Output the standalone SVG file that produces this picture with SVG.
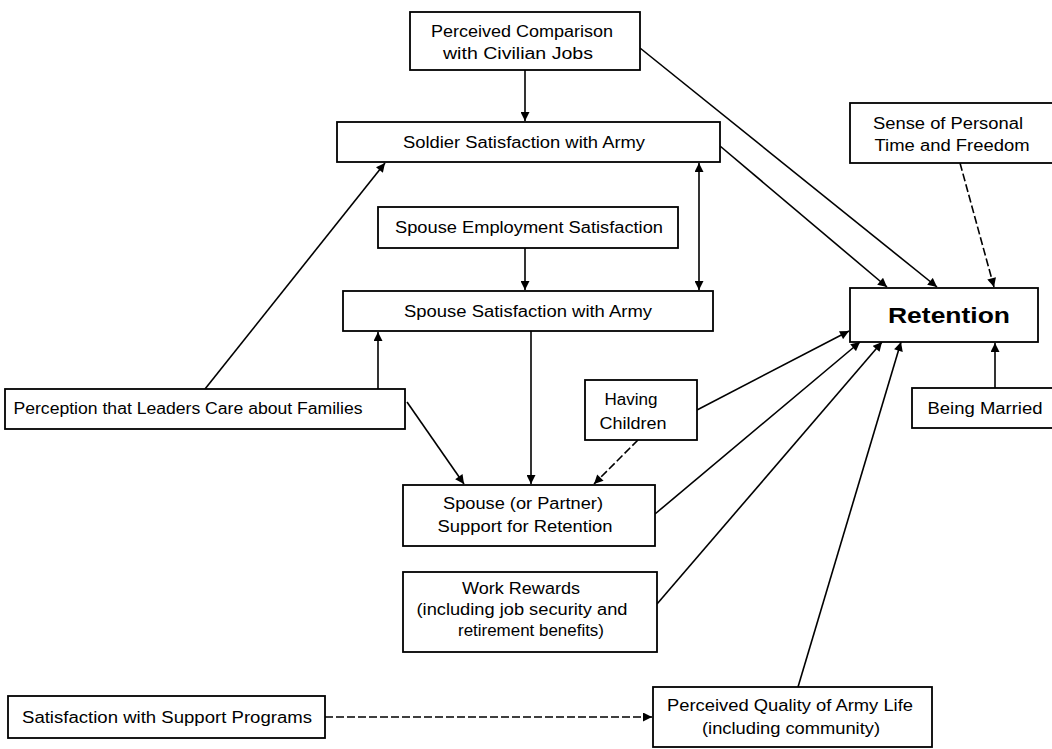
<svg xmlns="http://www.w3.org/2000/svg" width="1052" height="749" viewBox="0 0 1052 749">
<defs>
<marker id="ah" viewBox="0 0 10 10" refX="10" refY="5" markerWidth="10" markerHeight="9" markerUnits="userSpaceOnUse" orient="auto-start-reverse">
<path d="M0,0 L10,5 L0,10 z" fill="#000"/>
</marker>
<style>
.box{fill:#fff;stroke:#000;stroke-width:1.8}
.t{font-family:"Liberation Sans",Arial,sans-serif;font-size:16px;fill:#000;text-anchor:middle}
.big{font-family:"Liberation Sans",Arial,sans-serif;font-size:22px;font-weight:bold;fill:#000;text-anchor:middle}
.c{fill:none;stroke:#000;stroke-width:1.6;marker-end:url(#ah)}
.d{stroke-dasharray:8 3}
</style>
</defs>
<rect width="1052" height="749" fill="#fff"/>
<g id="connectors">
<line class="c" x1="525" y1="70" x2="525" y2="121"/>
<line class="c" x1="640" y1="48" x2="937" y2="287"/>
<line class="c" x1="720" y1="146" x2="887" y2="287"/>
<line class="c" x1="699" y1="290" x2="699" y2="163" style="marker-start:url(#ah)"/>
<line class="c" x1="525" y1="248" x2="525" y2="290"/>
<line class="c" x1="205" y1="389" x2="385" y2="163"/>
<line class="c" x1="378" y1="389" x2="378" y2="332"/>
<line class="c" x1="407" y1="402" x2="464" y2="484"/>
<line class="c" x1="531" y1="331" x2="531" y2="484"/>
<line class="c d" x1="638" y1="440" x2="594" y2="484"/>
<line class="c" x1="697" y1="410" x2="849" y2="331"/>
<line class="c" x1="655" y1="514" x2="860" y2="342"/>
<line class="c" x1="657" y1="604" x2="882" y2="342"/>
<line class="c" x1="798" y1="687" x2="901" y2="342"/>
<line class="c d" x1="960" y1="163" x2="994" y2="287"/>
<line class="c" x1="995" y1="388" x2="995" y2="343"/>
<line class="c d" x1="325" y1="717" x2="652" y2="717"/>
</g>
<g id="n-compare"><rect class="box" x="410" y="12" width="230" height="58"/><text class="t" x="522" y="37" textLength="182" lengthAdjust="spacingAndGlyphs">Perceived Comparison</text><text class="t" x="518" y="59" textLength="150" lengthAdjust="spacingAndGlyphs">with Civilian Jobs</text></g>
<g id="n-soldier"><rect class="box" x="337" y="122" width="383" height="40"/><text class="t" x="524" y="148" textLength="242" lengthAdjust="spacingAndGlyphs">Soldier Satisfaction with Army</text></g>
<g id="n-sense"><rect class="box" x="850" y="103" width="210" height="60"/><text class="t" x="948" y="129" textLength="150" lengthAdjust="spacingAndGlyphs">Sense of Personal</text><text class="t" x="952" y="151" textLength="155" lengthAdjust="spacingAndGlyphs">Time and Freedom</text></g>
<g id="n-spemp"><rect class="box" x="378" y="207" width="300" height="41"/><text class="t" x="529" y="233" textLength="268" lengthAdjust="spacingAndGlyphs">Spouse Employment Satisfaction</text></g>
<g id="n-spsat"><rect class="box" x="343" y="291" width="370" height="40"/><text class="t" x="528" y="317" textLength="248" lengthAdjust="spacingAndGlyphs">Spouse Satisfaction with Army</text></g>
<g id="n-retention"><rect class="box" x="850" y="288" width="188" height="54"/><text class="big" x="949" y="323" textLength="122" lengthAdjust="spacingAndGlyphs">Retention</text></g>
<g id="n-leaders"><rect class="box" x="5" y="389" width="400" height="40"/><text class="t" x="188" y="414" textLength="349" lengthAdjust="spacingAndGlyphs">Perception that Leaders Care about Families</text></g>
<g id="n-children"><rect class="box" x="585" y="380" width="112" height="60"/><text class="t" x="631" y="405" textLength="53" lengthAdjust="spacingAndGlyphs">Having</text><text class="t" x="633" y="429" textLength="67" lengthAdjust="spacingAndGlyphs">Children</text></g>
<g id="n-married"><rect class="box" x="912" y="388" width="150" height="40"/><text class="t" x="985" y="414" textLength="115" lengthAdjust="spacingAndGlyphs">Being Married</text></g>
<g id="n-support"><rect class="box" x="403" y="485" width="252" height="61"/><text class="t" x="523" y="509" textLength="160" lengthAdjust="spacingAndGlyphs">Spouse (or Partner)</text><text class="t" x="525" y="532" textLength="175" lengthAdjust="spacingAndGlyphs">Support for Retention</text></g>
<g id="n-work"><rect class="box" x="403" y="572" width="254" height="80"/><text class="t" x="521" y="594" textLength="118" lengthAdjust="spacingAndGlyphs">Work Rewards</text><text class="t" x="522" y="615" textLength="211" lengthAdjust="spacingAndGlyphs">(including job security and</text><text class="t" x="531" y="636" textLength="146" lengthAdjust="spacingAndGlyphs">retirement benefits)</text></g>
<g id="n-programs"><rect class="box" x="8" y="696" width="317" height="42"/><text class="t" x="167" y="723" textLength="290" lengthAdjust="spacingAndGlyphs">Satisfaction with Support Programs</text></g>
<g id="n-quality"><rect class="box" x="653" y="687" width="279" height="60"/><text class="t" x="790" y="711" textLength="246" lengthAdjust="spacingAndGlyphs">Perceived Quality of Army Life</text><text class="t" x="791" y="734" textLength="178" lengthAdjust="spacingAndGlyphs">(including community)</text></g>
</svg>
